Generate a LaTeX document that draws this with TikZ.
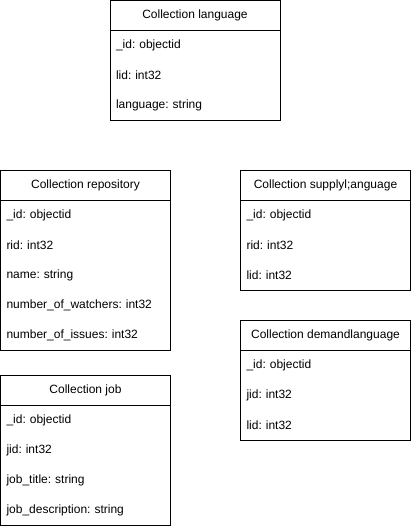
\documentclass[tikz,border=0pt]{standalone}
\usepackage{fontspec}
\setmainfont{Liberation Sans}
\usepackage{tikz}
\usetikzlibrary{positioning,calc}
\tikzset{head/.style={draw=black,line width=1pt,minimum width=170pt,minimum height=30pt,inner sep=0pt,outer sep=0pt,anchor=north west,font=\fontsize{12}{14}\selectfont}}
\tikzset{field/.style={minimum height=30pt,text width=158pt,inner xsep=6pt,inner ysep=0pt,outer sep=0pt,align=left,anchor=north west,font=\fontsize{12}{14}\selectfont\frenchspacing}}
\tikzset{body/.style={draw=black,line width=1pt}}

\begin{document}
\begin{tikzpicture}[x=1pt,y=-1pt]
% \draw[help lines] (0,0) grid (411,526);
\useasboundingbox (0,0) rectangle (411,526);
\node (lang) [head] at (110,0.5) {Collection language};
\node (repo) [head] at (0.5,170.5) {Collection repository};
\node (supply) [head] at (240.5,170.5) {Collection supplyl;anguage};
\node (demand) [head] at (240.5,320.5) {Collection demandlanguage};
\node (job) [head] at (0.5,375.5) {Collection job};
%
\foreach \t [count=\i] in {\_id: objectid, lid: int32, language: string}
  \node (lang-\i) [field] at ($(lang.south west)+(0,30*\i-30)$) {\t};
\foreach \t [count=\i] in {\_id: objectid, rid: int32, name: string, number\_of\_watchers: int32, number\_of\_issues: int32}
  \node (repo-\i) [field] at ($(repo.south west)+(0,30*\i-30)$) {\t};
\foreach \t [count=\i] in {\_id: objectid, rid: int32, lid: int32}
  \node (supply-\i) [field] at ($(supply.south west)+(0,30*\i-30)$) {\t};
\foreach \t [count=\i] in {\_id: objectid, jid: int32, lid: int32}
  \node (demand-\i) [field] at ($(demand.south west)+(0,30*\i-30)$) {\t};
\foreach \t [count=\i] in {\_id: objectid, jid: int32, job\_title: string, job\_description: string}
  \node (job-\i) [field] at ($(job.south west)+(0,30*\i-30)$) {\t};
%
\draw[body] (lang.south west) rectangle (lang-3.south east);
\draw[body] (repo.south west) rectangle (repo-5.south east);
\draw[body] (supply.south west) rectangle (supply-3.south east);
\draw[body] (demand.south west) rectangle (demand-3.south east);
\draw[body] (job.south west) rectangle (job-4.south east);
\end{tikzpicture}
\end{document}
